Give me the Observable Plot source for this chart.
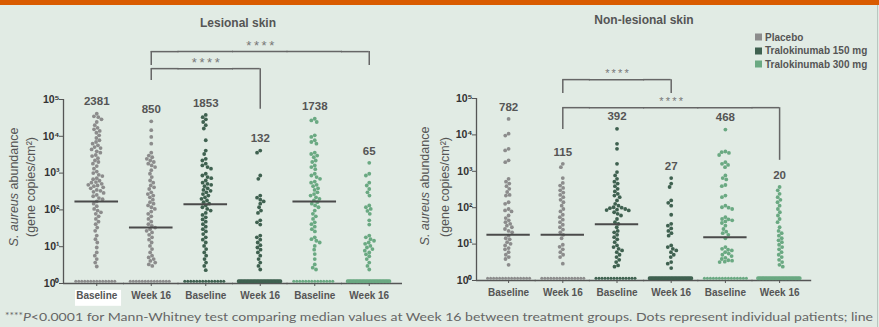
<!DOCTYPE html>
<html><head><meta charset="utf-8">
<script src="https://cdn.jsdelivr.net/npm/d3@7"></script>
<script src="https://cdn.jsdelivr.net/npm/@observablehq/plot@0.6"></script>
<style>
html,body{margin:0;padding:0;background:#e1ebe4;}
#wrap{position:relative;width:879px;height:327px;overflow:hidden;background:#e1ebe4;font-family:"Liberation Sans",Arial,sans-serif;}
#bar{position:absolute;left:0;top:0;width:879px;height:5px;background:#d95b00;}
#border{position:absolute;left:877px;top:5px;width:1px;height:322px;background:#b9c7c0;}
.panel{position:absolute;top:0;}
.title{position:absolute;font-weight:bold;font-size:12px;color:#555;transform:translate(-50%,-50%);white-space:nowrap;}
.ytitle{position:absolute;font-size:12.5px;color:#555;white-space:nowrap;transform:translate(-50%,-50%) rotate(-90deg);}
.leg{position:absolute;font-weight:bold;font-size:10px;color:#555;white-space:nowrap;transform:translateY(-50%);}
.leg span{display:inline-block;width:7px;height:7px;margin-right:3px;vertical-align:-0.5px;}
#foot{position:absolute;left:0;top:306px;}
</style>
</head><body>
<div id="wrap">
  <div id="bar"></div>
  <div id="border"></div>
  <div id="left" class="panel" style="left:0px"></div>
  <div id="right" class="panel" style="left:440px"></div>
  <div class="title" style="left:238px;top:23px">Lesional skin</div>
  <div class="title" style="left:644px;top:20px">Non-lesional skin</div>
  <div class="ytitle" style="left:14px;top:187px"><i>S. aureus</i> abundance</div>
  <div class="ytitle" style="left:31px;top:187px">(gene copies/cm²)</div>
  <div class="ytitle" style="left:425px;top:186px"><i>S. aureus</i> abundance</div>
  <div class="ytitle" style="left:445px;top:187px">(gene copies/cm²)</div>
  <div id="legend"></div>
  <svg id="foot" width="879" height="21"><text x="5" y="15" textLength="868" lengthAdjust="spacingAndGlyphs" font-family="Lato, 'Open Sans', sans-serif" font-size="12" fill="#666"><tspan font-size="9" dy="-2">****</tspan><tspan font-style="italic" dy="2">P</tspan>&lt;0.0001 for Mann-Whitney test comparing median values at Week 16 between treatment groups. Dots represent individual patients; line</text></svg>
</div>
<script>
const categories = ["Baseline", "Week 16", "Baseline", "Week 16", "Baseline", "Week 16"];
const treatments = ["Placebo", "Tralokinumab 150 mg", "Tralokinumab 300 mg"];
const groupTreatment = [0, 0, 1, 1, 2, 2];
const treatmentColors = ["#8c8c8c", "#3f6150", "#6aa982"];
const yTicks = [1, 10, 100, 1000, 10000, 100000];
const floorValue = 1.15; // below detection, plotted at the floor

// Lesional skin
const lesionalMeans = [2381, 850, 1853, 132, 1738, 65];
const lesionalMedians = [170, 33, 143, null, 170, null];
const lesionalFloorCounts = [14, 14, 14, 30, 14, 30];
const lesionalPlaceboBaseline = [41000, 35000, 33000, 29000, 24500, 20000, 17000, 15500, 14000, 12500, 10600, 9000, 7800, 7000, 6300, 5700, 5100, 4800, 4400, 3900, 3600, 3100, 2900, 2550, 2200, 2000, 1800, 1550, 1320, 1100, 1000, 900, 830, 730, 680, 620, 570, 550, 510, 480, 460, 440, 410, 385, 350, 330, 310, 290, 255, 235, 210, 195, 170, 148, 126, 106, 96, 86, 78, 67, 57, 48, 41, 33, 27, 20, 16, 13, 9.5, 7, 5.7, 4.6, 3.7, 2.9];
const lesionalPlaceboWeek16 = [25500, 14700, 9600, 6300, 3600, 3000, 2700, 2450, 2200, 2000, 1800, 1620, 1460, 1200, 960, 780, 630, 550, 460, 410, 370, 300, 270, 245, 220, 190, 162, 148, 132, 118, 106, 90, 78, 67, 57, 48, 41, 37, 33, 30, 27, 24.5, 21, 18, 15.5, 13, 10.5, 8.6, 7, 5.7, 5.1, 4.6, 4.1, 3.7, 3.3, 3];
const lesionalT150Baseline = [38000, 33000, 29000, 24500, 20000, 16300, 7800, 4100, 3300, 2450, 2200, 1800, 1620, 1460, 1320, 960, 860, 780, 730, 630, 550, 510, 480, 440, 385, 350, 330, 300, 270, 245, 220, 200, 180, 162, 148, 132, 118, 106, 96, 83, 73, 63, 55, 48, 41, 35, 30, 26, 22, 18, 15.5, 13, 10.5, 8.6, 7, 5.7, 4.6, 3.7, 3, 2.3];
const lesionalT150Week16 = [4100, 3600, 860, 700, 245, 215, 190, 170, 148, 118, 96, 83, 52, 46, 40, 20, 18, 15.5, 13, 11, 9.5, 8.3, 7, 5.7, 4.6, 3.7, 3, 2.4];
const lesionalT300Baseline = [30000, 27000, 24500, 10600, 9600, 7800, 7000, 6300, 3600, 3300, 3000, 2700, 2200, 2000, 1620, 1460, 1280, 960, 860, 780, 700, 590, 550, 480, 440, 385, 350, 300, 270, 245, 220, 200, 180, 162, 148, 132, 118, 96, 78, 67, 57, 46, 41, 35, 30, 26, 18, 16, 14.5, 13, 10.5, 8.3, 6.3, 4.6, 3.3, 2.7, 2.4];
const lesionalT300Week16 = [1900, 960, 860, 550, 460, 370, 300, 245, 132, 118, 106, 94, 78, 52, 40, 20, 18, 16, 14.5, 13, 12, 10.5, 9.5, 8.6, 7.8, 7, 6.2, 5.5, 4.6, 3.7, 3, 2.4];
const lesionalBrackets = [
  {from: 1, to: 3, top: 6.9e5, legFrom: 3.3e5, legTo: 5.4e4},
  {from: 1, to: 5, top: 2.0e6, legFrom: 8.4e5, legTo: 8.4e5}
];

// Non-lesional skin
const nonlesionalMeans = [782, 115, 392, 27, 468, 20];
const nonlesionalMedians = [18, 18, 35, null, 15.5, null];
const nonlesionalFloorCounts = [15, 15, 14, 30, 15, 30];
const nonlesionalPlaceboBaseline = [27500, 10800, 9600, 4150, 3750, 2000, 1780, 620, 520, 460, 390, 330, 270, 225, 215, 141, 128, 92, 84, 79, 61, 52, 45, 40, 36, 32, 29, 26, 23, 21, 17, 14.5, 13.5, 11.3, 10.2, 9.2, 7.8, 7.2, 6, 5.1, 4.4, 3.9, 2.7];
const nonlesionalPlaceboWeek16 = [1600, 1300, 650, 480, 405, 350, 300, 260, 225, 195, 165, 141, 114, 92, 79, 64, 55, 47, 40, 34, 29, 25, 21, 18, 14.5, 9.6, 8.4, 7.2, 6, 5.1, 4.4, 2.9];
const nonlesionalT150Baseline = [14700, 5700, 4150, 1600, 950, 770, 620, 520, 460, 390, 330, 280, 240, 215, 195, 158, 128, 114, 103, 100, 97, 92, 88, 86, 84, 75, 68, 61, 49, 40, 36, 29, 23, 21, 18, 15.5, 13.5, 11.3, 9.2, 8.3, 7.4, 6.7, 6, 5.1, 4.4, 3.7, 3.2, 2.6, 2.4];
const nonlesionalT150Week16 = [650, 460, 370, 158, 136, 114, 64, 36, 32, 27, 23, 20, 17, 9.2, 8.3, 7.4, 6.7, 6, 5.1, 4.4, 3.2, 2.9, 2.2];
const nonlesionalT300Baseline = [14000, 3500, 3350, 3200, 2800, 1780, 1600, 1500, 1300, 770, 650, 600, 420, 390, 215, 195, 114, 103, 100, 92, 55, 49, 48, 45, 42, 38, 32, 26, 22, 20, 18, 14.5, 8.3, 7.4, 7, 6.7, 6, 5.5, 5.1, 4.7, 4.2, 3.9, 3.6, 3.5, 3.3, 3.2];
const nonlesionalT300Week16 = [370, 300, 240, 195, 165, 141, 114, 92, 75, 61, 49, 40, 29, 23, 20, 17, 14.5, 12.7, 11.3, 9.6, 8.3, 7.2, 6, 5.1, 4.4, 3.7, 3.2, 2.7, 2.4];
const nonlesionalBrackets = [
  {from: 1, to: 3, top: 3.3e5, legFrom: 1.37e5, legTo: 1.37e5},
  {from: 1, to: 5, top: 5.6e4, legFrom: 1.4e4, legTo: 2.0e3}
];

const sup = ["⁰", "¹", "²", "³", "⁴", "⁵"];
const ink = "#555";

function panel(cfg) {
  const {values, floorCounts, medians, means, brackets, width, height, marginLeft, marginRight, marginTop, marginBottom, axisGap, highlight, starSize} = cfg;
  const n = categories.length;
  const step = (width - marginLeft - marginRight) / n;
  const xAxis = -0.5 - axisGap / step;
  const xEnd = 0.5 + axisGap / step;
  const tickLen = 4 / step;
  const dots = values.flatMap((vals, g) => vals.map(v => ({g, v, t: treatments[groupTreatment[g]]})));
  const floorDots = floorCounts.flatMap((c, g) => d3.range(c).map(() => ({g, v: floorValue, t: treatments[groupTreatment[g]], dense: c > 20})));
  const floorSegs = d3.range(n).map(g => ({g, x1: g === 0 ? xAxis : -0.51, x2: g === n - 1 ? xEnd : 0.51}));
  const medianData = medians.map((m, g) => ({g, m})).filter(d => d.m != null);
  const meanData = means.map((mean, g) => ({g, mean, top: d3.max(values[g])}));
  const hSegs = [], vSegs = [], stars = [];
  for (const b of brackets) {
    for (let g = b.from; g <= b.to; g++) hSegs.push({g, y: b.top, x1: g === b.from ? 0 : -0.51, x2: g === b.to ? 0 : 0.51});
    vSegs.push({g: b.from, y1: b.legFrom, y2: b.top}, {g: b.to, y1: b.legTo, y2: b.top});
    stars.push({g: (b.from + b.to) / 2, y: b.top});
  }
  const tickData = yTicks.map(t => ({g: 0, t}));
  const marks = [];
  if (highlight) marks.push(Plot.rect([{g: 0}], {fx: "g", x1: () => -0.39, x2: () => 0.455, y1: () => 0.65, y2: () => 0.24, fill: "white"}));
  marks.push(
    Plot.ruleY(floorSegs, {fx: "g", y: () => 1, x1: "x1", x2: "x2", stroke: ink, strokeWidth: 1.3}),
    Plot.ruleX([{g: 0}], {fx: "g", x: () => xAxis, y1: () => 1, y2: () => 1e5, stroke: ink, strokeWidth: 1.3}),
    Plot.ruleY(tickData, {fx: "g", y: "t", x1: () => xAxis - tickLen, x2: () => xAxis, stroke: ink, strokeWidth: 1}),
    Plot.text(tickData, {fx: "g", x: () => xAxis, y: "t", text: d => "10" + sup[Math.round(Math.log10(d.t))], textAnchor: "end", dx: -4, fontWeight: "bold", fontSize: 10.5, fill: "#333"}),
    Plot.dot(floorDots.filter(d => !d.dense), Plot.dodgeX({anchor: "middle", padding: 0}, {fx: "g", y: "v", r: 1.5, fill: "t"})),
    Plot.dot(floorDots.filter(d => d.dense), Plot.dodgeX({anchor: "middle", padding: 0}, {fx: "g", y: "v", r: 0.72, fill: "t", stroke: "t", strokeWidth: 2.4})),
    Plot.dot(dots, Plot.dodgeX({anchor: "middle", padding: 0}, {fx: "g", y: "v", r: 1.9, fill: "t"})),
    Plot.ruleY(medianData, {fx: "g", y: "m", x1: () => -0.4, x2: () => 0.4, stroke: "#4a4a4a", strokeWidth: 2}),
    Plot.text(meanData, {fx: "g", x: () => 0, y: "top", text: d => String(d.mean), dy: -12, fontWeight: "bold", fontSize: 11.5, fill: ink}),
    Plot.ruleY(hSegs, {fx: "g", y: "y", x1: "x1", x2: "x2", stroke: "#666", strokeWidth: 1.5}),
    Plot.ruleX(vSegs, {fx: "g", x: () => 0, y1: "y1", y2: "y2", stroke: "#666", strokeWidth: 1.5}),
    Plot.text(stars, {fx: "g", x: () => 0, y: "y", text: () => "*\u2009*\u2009*\u2009*", dy: -6, fontSize: starSize, fill: "#777"}),
    Plot.axisFx({anchor: "bottom", tickSize: 3, tickPadding: 5, tickFormat: i => categories[i], fontWeight: "bold", fontSize: 10, fill: ink, stroke: ink, label: null})
  );
  return Plot.plot({
    width, height, marginLeft, marginRight, marginTop, marginBottom,
    style: {background: "transparent", fontFamily: "'Liberation Sans', Arial, sans-serif", overflow: "visible"},
    fx: {domain: d3.range(n), padding: 0, round: false},
    x: {domain: [-0.5, 0.5], axis: null},
    y: {type: "log", domain: [1, 1e5], axis: null},
    color: {domain: treatments, range: treatmentColors},
    marks
  });
}

document.getElementById("left").appendChild(panel({
  values: [lesionalPlaceboBaseline, lesionalPlaceboWeek16, lesionalT150Baseline, lesionalT150Week16, lesionalT300Baseline, lesionalT300Week16],
  floorCounts: lesionalFloorCounts, medians: lesionalMedians, means: lesionalMeans, brackets: lesionalBrackets,
  width: 440, height: 310, marginLeft: 69, marginRight: 44, marginTop: 99, marginBottom: 27, axisGap: 6, highlight: true, starSize: 13
}));
document.getElementById("right").appendChild(panel({
  values: [nonlesionalPlaceboBaseline, nonlesionalPlaceboWeek16, nonlesionalT150Baseline, nonlesionalT150Week16, nonlesionalT300Baseline, nonlesionalT300Week16],
  floorCounts: nonlesionalFloorCounts, medians: nonlesionalMedians, means: nonlesionalMeans, brackets: nonlesionalBrackets,
  width: 439, height: 310, marginLeft: 41, marginRight: 72.8, marginTop: 98, marginBottom: 30, axisGap: 5, highlight: false, starSize: 11
}));

const legend = document.getElementById("legend");
treatments.forEach((t, i) => {
  const d = document.createElement("div");
  d.className = "leg";
  d.style.left = "755px";
  d.style.top = (36.5 + i * 13.5) + "px";
  d.innerHTML = `<span style="background:${treatmentColors[i]}"></span>${t}`;
  legend.appendChild(d);
});
</script>
</body></html>
